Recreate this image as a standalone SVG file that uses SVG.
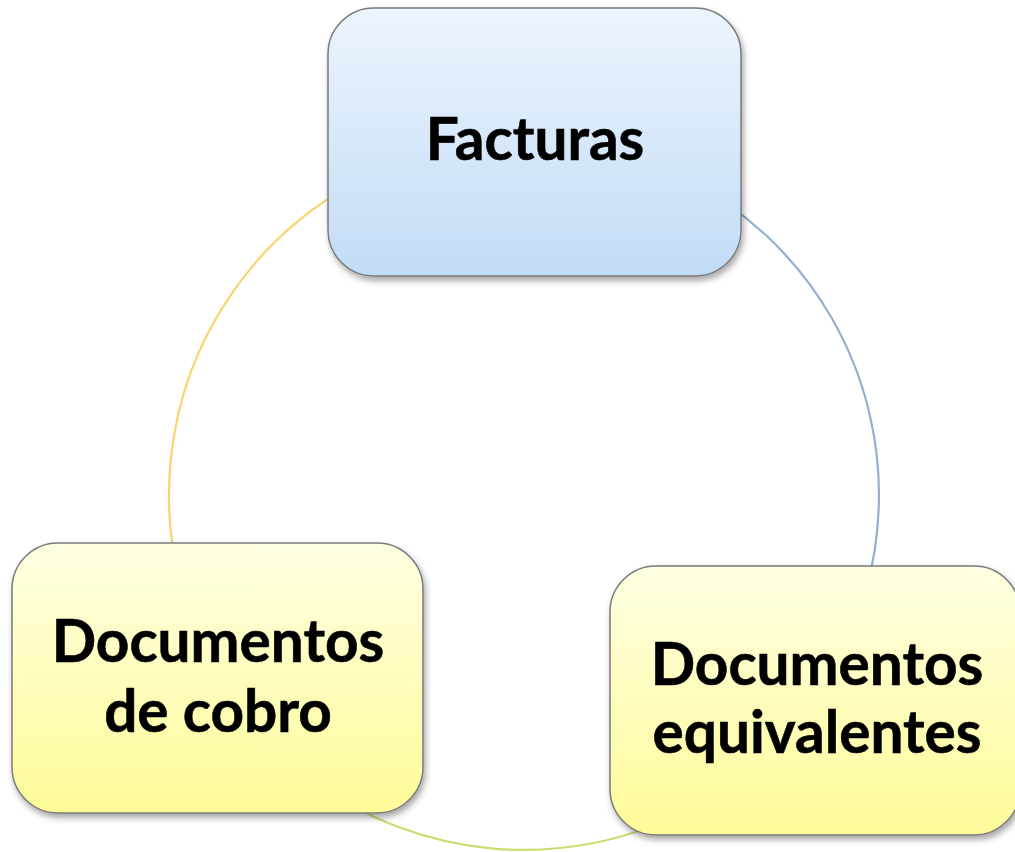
<svg xmlns="http://www.w3.org/2000/svg" width="1015" height="852" viewBox="0 0 1015 852">
  <defs>
    <linearGradient id="gBlue" x1="0" y1="0" x2="0" y2="1">
      <stop offset="0" stop-color="#EDF4FE"/>
      <stop offset="1" stop-color="#C2DCF6"/>
    </linearGradient>
    <linearGradient id="gYellow" x1="0" y1="0" x2="0" y2="1">
      <stop offset="0" stop-color="#FFFFE2"/>
      <stop offset="1" stop-color="#FEFB98"/>
    </linearGradient>
    <filter id="shadow" x="-10%" y="-10%" width="125%" height="130%">
      <feDropShadow dx="2" dy="4" stdDeviation="3" flood-color="#000" flood-opacity="0.35"/>
    </filter>
  </defs>
  <style>
    .box { stroke: #7A7A7A; stroke-width: 1.5; filter: url(#shadow); }
    .lbl { font-family: Lato, "Liberation Sans", sans-serif; font-weight: 700; font-size: 58.5px; fill: #000; text-anchor: middle; stroke: #000; stroke-width: 0.6; }
    .arc { fill: none; stroke-width: 2.2; }
  </style>
  <rect width="1015" height="852" fill="#FFFFFF"/>
  <g id="connectors">
    <path class="arc" stroke="#FAD56E" d="M 524 140 A 355 355 0 0 0 190.4 616.4"/>
    <path class="arc" stroke="#93B0D2" d="M 524 140 A 355 355 0 0 1 831.4 672.5"/>
    <path class="arc" stroke="#CFDB70" d="M 831.4 672.5 A 355 355 0 0 1 190.4 616.4"/>
  </g>
  <g id="facturas">
    <rect class="box" x="328" y="8" width="413" height="268" rx="46" fill="url(#gBlue)"/>
    <text class="lbl" x="535" y="160">Facturas</text>
  </g>
  <g id="documentos-cobro">
    <rect class="box" x="12" y="543" width="411" height="270" rx="46" fill="url(#gYellow)"/>
    <text class="lbl" x="218" y="662">Documentos</text>
    <text class="lbl" x="218" y="732">de cobro</text>
  </g>
  <g id="documentos-equivalentes">
    <rect class="box" x="610" y="566" width="410" height="269" rx="46" fill="url(#gYellow)"/>
    <text class="lbl" x="817" y="685">Documentos</text>
    <text class="lbl" x="817" y="753">equivalentes</text>
  </g>
</svg>
